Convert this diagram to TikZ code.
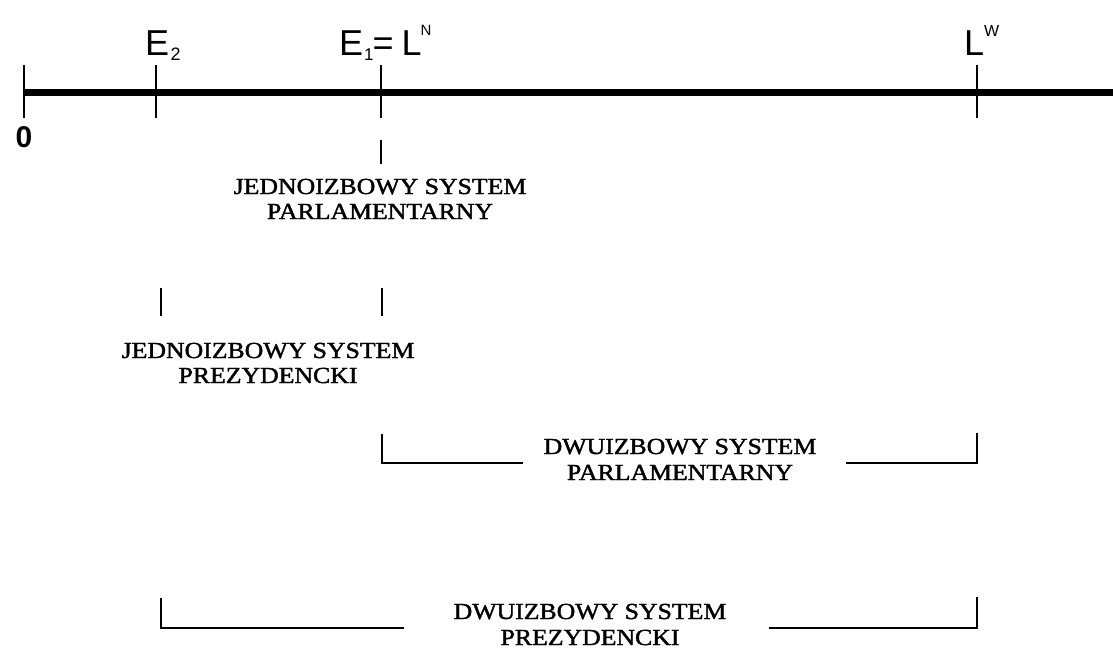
\documentclass[tikz,border=0pt]{standalone}
\usepackage{fontspec}
\setmainfont{Liberation Sans}
\newfontfamily\serf[FakeBold=1.5]{Liberation Serif}
\newcommand{\wide}[1]{\scalebox{1.12}[1]{#1}}
\begin{document}
\begin{tikzpicture}[x=1pt,y=-1pt,
  tickline/.style={line width=2pt},
  axisline/.style={line width=7pt},
  toplab/.style={inner sep=0pt, anchor=base west, font=\fontsize{36}{36}\selectfont},
  sys/.style={inner sep=0pt, anchor=base, font=\serf\fontsize{23}{23}\selectfont},
]
\useasboundingbox[fill=white] (0,0) rectangle (1113,648);
% axis
\coordinate (a0) at (24,92);
\coordinate (aend) at (1113,92);
\draw[axisline] (a0) -- (aend);
% ticks on the axis
\foreach \n/\x in {t0/24, te2/156, te1/381, tlw/977}{
  \coordinate (\n top) at (\x,65);
  \coordinate (\n bot) at (\x,118);
  \draw[tickline] (\n top) -- (\n bot);
}
% labels above
\node[toplab] (e2) at (145,55) {E\kern1.5pt\raisebox{-5pt}{\fontsize{18}{18}\selectfont 2}};
\node[toplab] (e1) at (339,55) {E\kern1pt\raisebox{-5pt}{\fontsize{17}{17}\selectfont 1}\kern-1pt=\kern8pt L\kern-1pt\raisebox{20pt}{\fontsize{15}{15}\selectfont N}};
\node[toplab] (lw) at (964,55) {L\kern0pt\raisebox{19pt}{\fontsize{16}{16}\selectfont W}};
\node[inner sep=0pt, anchor=base, font=\bfseries\fontsize{30}{30}\selectfont] (zero) at (24,147) {0};
% block 1
\coordinate (b1top) at (381,140);
\coordinate (b1bot) at (381,164);
\draw[tickline] (b1top) -- (b1bot);
\node[sys] (jp1) at (380,194) {\wide{JEDNOIZBOWY SYSTEM}};
\node[sys] (jp2) at (380,219) {\wide{PARLAMENTARNY}};
% block 2
\coordinate (b2atop) at (161,288);
\coordinate (b2abot) at (161,316);
\coordinate (b2btop) at (382,288);
\coordinate (b2bbot) at (382,316);
\draw[tickline] (b2atop) -- (b2abot);
\draw[tickline] (b2btop) -- (b2bbot);
\node[sys] (jz1) at (268,358) {\wide{JEDNOIZBOWY SYSTEM}};
\node[sys] (jz2) at (268,383) {\wide{PREZYDENCKI}};
% block 3
\coordinate (b3l) at (382,434);
\coordinate (b3lc) at (382,463);
\coordinate (b3le) at (523,463);
\coordinate (b3rs) at (846,463);
\coordinate (b3rc) at (977,463);
\coordinate (b3r) at (977,433);
\draw[tickline] (b3l) -- (b3lc) -- (b3le);
\draw[tickline] (b3rs) -- (b3rc) -- (b3r);
\node[sys] (dp1) at (680,454) {\wide{DWUIZBOWY SYSTEM}};
\node[sys] (dp2) at (680,480) {\wide{PARLAMENTARNY}};
% block 4
\coordinate (b4l) at (161,598);
\coordinate (b4lc) at (161,628);
\coordinate (b4le) at (404,628);
\coordinate (b4rs) at (769,628);
\coordinate (b4rc) at (977,628);
\coordinate (b4r) at (977,597);
\draw[tickline] (b4l) -- (b4lc) -- (b4le);
\draw[tickline] (b4rs) -- (b4rc) -- (b4r);
\node[sys] (dz1) at (590,619) {\wide{DWUIZBOWY SYSTEM}};
\node[sys] (dz2) at (590,645) {\wide{PREZYDENCKI}};
\end{tikzpicture}
\end{document}
